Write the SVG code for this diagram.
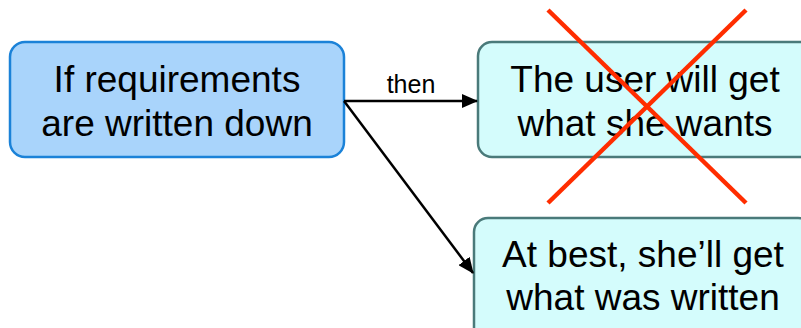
<svg xmlns="http://www.w3.org/2000/svg" width="801" height="328" viewBox="0 0 801 328">
  <style>
    .lbl { font-family: "Liberation Sans", Arial, sans-serif; font-size: 37px; fill: #000; text-anchor: middle; }
    .edge-lbl { font-family: "Liberation Sans", Arial, sans-serif; font-size: 25px; fill: #000; text-anchor: middle; }
    .cause { fill: #a9d4fb; stroke: #1b82d8; stroke-width: 2.5; }
    .effect { fill: #d4fcfc; stroke: #4a7a7a; stroke-width: 2.5; }
    .conn { stroke: #000; stroke-width: 2.5; fill: none; }
    .cross { stroke: #ff2d00; stroke-width: 4.5; fill: none; }
  </style>
  <defs>
    <marker id="arrow" viewBox="0 0 16 14" refX="15" refY="7" markerWidth="16" markerHeight="14" markerUnits="userSpaceOnUse" orient="auto">
      <path d="M0,0 L16,7 L0,14 Z" fill="#000"/>
    </marker>
  </defs>
  <rect width="801" height="328" fill="#fff"/>

  <g id="node-written">
    <rect class="cause" x="10" y="42" width="334" height="115" rx="15" ry="15"/>
    <text class="lbl" x="177" y="92">If requirements</text>
    <text class="lbl" x="177" y="136">are written down</text>
  </g>

  <g id="node-wants">
    <rect class="effect" x="478" y="42" width="336" height="115" rx="14" ry="14"/>
    <text class="lbl" x="645" y="92">The user will get</text>
    <text class="lbl" x="645" y="136">what she wants</text>
  </g>

  <g id="node-written-result">
    <rect class="effect" x="474" y="218" width="338" height="130" rx="14" ry="14"/>
    <text class="lbl" x="643" y="267">At best, she’ll get</text>
    <text class="lbl" x="643" y="310">what was written</text>
  </g>

  <g id="connectors">
    <line class="conn" x1="344" y1="101" x2="477" y2="101" marker-end="url(#arrow)"/>
    <text class="edge-lbl" x="411" y="93">then</text>
    <line class="conn" x1="344" y1="101" x2="473" y2="273" marker-end="url(#arrow)"/>
  </g>

  <g id="strike">
    <line class="cross" x1="548" y1="10" x2="746" y2="203"/>
    <line class="cross" x1="746" y1="10" x2="548" y2="203"/>
  </g>
</svg>
